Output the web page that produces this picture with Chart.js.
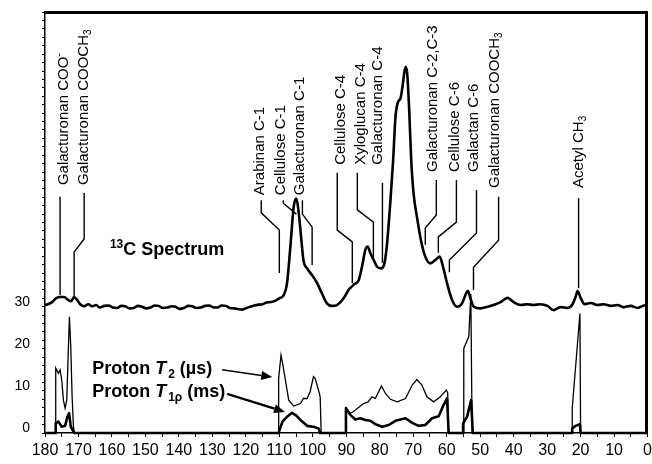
<!DOCTYPE html>
<html><head><meta charset="utf-8">
<script src="https://cdn.jsdelivr.net/npm/chart.js@4/dist/chart.umd.min.js"></script>
<style>
html,body{margin:0;padding:0;background:#fff}
#wrap{width:652px;height:464px;position:relative}
canvas{display:block}
.fr{position:absolute;background:#000;pointer-events:none}
#frTop{left:45px;top:11px;width:603px;height:2px}
#frRight{left:645px;top:11px;width:2px;height:422px}
</style>
</head><body><div id="wrap"><canvas id="c" width="652" height="464"></canvas><div class="fr" id="frTop"></div><div class="fr" id="frRight"></div></div>
<script>
// ---- tick labels ----
const xTickLabels = [180,170,160,150,140,130,120,110,100,90,80,70,60,50,40,30,20,10,0];
const yTickLabels = [0,10,20,30];

// ---- 13C spectrum (ppm, intensity offset on the same axis) ----
const specPpm = [180.0,179.1,177.9,176.7,175.5,174.3,173.1,172.2,171.3,170.4,169.5,168.3,167.1,165.9,164.7,163.6,162.3,161.0,159.8,158.5,157.2,156.0,154.8,153.5,152.2,151.0,149.8,148.5,147.2,146.0,144.8,143.5,142.2,141.0,139.8,138.5,137.2,136.0,134.8,133.5,132.2,131.0,129.8,128.5,127.2,126.0,124.8,123.5,122.2,121.0,119.8,118.7,117.5,116.2,115.0,113.8,112.5,111.3,110.4,109.7,108.8,107.7,106.7,105.7,104.9,104.3,103.5,102.8,101.7,100.2,98.7,97.3,95.8,94.3,92.8,90.8,89.3,87.8,86.3,85.3,84.3,83.6,82.8,81.8,80.8,79.6,78.6,77.8,76.8,76.0,75.3,74.5,73.8,73.2,72.3,71.8,71.2,70.6,69.9,68.9,67.7,66.4,64.9,63.4,62.1,61.1,59.9,58.4,56.9,55.4,54.4,53.7,52.9,51.9,49.9,47.8,45.4,43.9,41.8,40.0,37.9,35.9,34.1,32.0,29.9,28.1,26.0,23.9,22.4,21.5,20.9,20.0,18.8,17.0,14.9,13.1,11.0,8.9,7.2,5.1,3.0,1.5,0];
const specVal = [30.4,30.6,31.1,32.0,32.3,32.3,31.6,31.3,32.3,31.6,30.6,30.1,30.6,30.1,30.4,29.8,30.2,30.3,29.8,29.7,30.2,30.1,29.6,29.7,30.2,30.0,29.6,29.8,30.3,30.2,29.7,29.8,30.1,30.0,29.5,29.7,30.2,30.1,29.7,29.8,30.2,30.3,29.9,29.8,30.3,30.2,29.7,29.6,29.4,29.3,29.7,30.0,30.3,30.5,30.6,31.0,31.1,31.4,31.8,32.1,32.6,35.6,44.3,53.8,55.7,53.0,46.6,41.1,39.1,37.5,35.6,33.2,30.8,30.2,30.4,32.0,34.0,35.2,36.3,39.5,43.5,44.3,42.7,41.1,39.5,39.1,40.3,45.1,55.3,64.8,75.1,78.7,79.5,82.3,87.0,85.4,76.7,64.8,56.9,51.4,45.8,41.9,40.3,41.1,41.9,39.5,35.6,31.6,30.0,30.8,32.8,33.8,32.0,30.0,29.6,30.0,30.6,31.1,32.1,31.1,30.4,30.6,30.4,30.6,30.2,29.2,29.9,29.7,30.6,32.3,33.7,32.1,30.6,30.9,30.4,30.6,30.2,30.4,29.9,30.2,29.7,30.2,30.4];

// ---- Proton T2 (µs) ----
const t2Ppm = [180,176.8,176.8,176.0,175.5,175.0,174.5,174.0,173.5,173.0,172.7,172.3,171.9,171.5,171.2,110.2,110.2,109.5,108.9,108.2,107.2,105.7,103.7,102.8,101.7,100.8,99.8,99.3,98.3,97.8,97.5,90.1,90.1,88.8,87.8,85.8,84.8,83.5,82.3,81.3,79.5,78.3,76.8,74.8,72.3,70.3,68.9,67.4,65.9,63.9,61.9,60.1,59.7,59.5,54.9,54.9,53.4,52.8,52.4,22.5,22.5,20.2,20.0,0];
const t2Val = [0,0,15.4,14.2,15.0,12.6,7.8,5.9,7.8,20.5,27.6,20.5,8.6,1.5,0,0,13.0,18.5,16.0,12.6,7.8,6.4,7.0,8.2,8.2,9.8,13.4,13.0,10.2,8.6,0,0,5.9,4.7,5.1,6.4,7.0,7.4,8.6,8.2,11.2,9.4,8.0,7.4,8.2,11.4,12.7,11.4,8.6,7.4,8.6,10.2,9.5,0,0,20.1,22.9,33.0,0,0,5.9,28.4,0,0];

// ---- Proton T1rho (ms) ----
const t1Ppm = [180,176.8,176.8,176.0,175.0,174.0,173.3,172.8,172.3,171.5,171.2,110.2,109.6,109.0,107.5,106.2,105.0,103.7,101.7,99.8,98.3,97.8,90.1,90.1,88.8,87.3,85.8,84.3,82.8,81.3,79.3,77.3,75.3,72.3,70.3,68.4,66.4,64.4,62.4,60.9,59.9,59.4,55.1,55.1,53.9,52.7,52.2,22.5,22.5,21.5,20.2,20.0,0];
const t1Val = [0,0,2.3,2.7,1.5,1.7,3.9,4.7,1.5,0.3,0,0,1.5,2.8,4.0,4.8,4.2,3.1,1.7,1.5,1.1,0,0,5.9,4.3,3.2,3.5,3.1,2.9,2.1,1.5,1.9,2.9,3.5,2.4,1.7,1.9,3.5,4.0,6.7,8.2,0,0,2.3,3.9,7.8,0,0,1.1,1.7,2.1,0,0];

// ---- peak assignments ----
const peakLabels = ['Galacturonan COO⁻','Galacturonan COOCH₃','Arabinan C-1','Cellulose C-1','Galacturonan C-1','Cellulose C-4','Xyloglucan C-4','Galacturonan C-4','Galacturonan C-2,C-3','Cellulose C-6','Galactan C-6','Galacturonan COOCH₃','Acetyl CH₃'];
const peakLabelPpm = [174.3,168.3,115.7,109.4,103.7,91.5,85.5,80.4,64.0,57.4,51.7,45.7,20.6];
const peakLabelBase = [58.9,58.9,56.5,56.5,56.5,63.7,63.7,63.7,62.0,62.0,62.0,58.2,58.2];
const leaderPpm = [[175.5,175.5],[168.3,168.3,171.3,171.3],[115.4,115.4,110.0,110.0],[108.8,108.8,104.9],[103.1,103.1,100.2,100.2],[92.7,92.7,88.2,88.2],[86.7,86.7,81.9,81.9],[79.2,79.2],[63.1,63.1,66.4,66.4],[57.1,57.1,62.5,62.5],[51.1,51.1,59.2,59.2],[44.5,44.5,52.0,52.0],[20.6,20.6]];
const leaderVal = [[56.1,32.8],[57.0,46.1,43.0,32.3],[55.3,52.3,48.2,38.0],[55.3,54.6,52.0],[55.3,52.0,48.9,39.9],[61.8,48.2,45.4,35.6],[61.8,53.0,50.1,41.8],[59.4,40.4],[60.1,51.8,48.7,44.7],[60.1,50.1,46.6,42.8],[57.7,47.5,41.1,38.2],[56.1,45.8,39.4,34.0],[55.8,34.4]];

// ---- series titles ----
const seriesTitles = ['¹³C Spectrum','Proton T₂ (µs)','Proton T₁ρ (ms)'];
const titlePpm = [160.6,165.9,165.9];
const titleVal = [42.3,14.0,8.55];
const arrowFromPpm = [127.1,125.6], arrowFromVal = [15.0,9.3];
const arrowToPpm = [112.1,108.3], arrowToVal = [13.3,5.0];

const FONT = '"Liberation Sans", Arial, Helvetica, sans-serif';
const subMap = {'₃':'3','₂':'2','₁':'1'};
const supMap = {'⁻':'-','¹':'1','³':'3'};

function drawRich(ctx, text, x, y, size, weight, italicT){
  const segs=[]; let subRun=false;
  for(const ch of text){
    let s;
    if(ch in subMap || (subRun && ch==='ρ')) s={t:subMap[ch]||ch,mode:'sub'};
    else if(ch in supMap) s={t:supMap[ch],mode:'sup'};
    else if(italicT && ch==='T') s={t:ch,mode:'it'};
    else s={t:ch,mode:'n'};
    subRun = s.mode==='sub';
    const last=segs[segs.length-1];
    if(last && last.mode===s.mode) last.t+=s.t; else segs.push(s);
  }
  ctx.textAlign='left'; ctx.textBaseline='alphabetic';
  let cx=x;
  segs.forEach(s=>{
    let fs=size, dy=0, st='';
    if(s.mode==='sub'){fs=Math.round(size*0.66); dy=size*0.2;}
    if(s.mode==='sup'){fs=Math.round(size*0.66); dy=-size*0.4;}
    if(s.mode==='it'){st='italic ';}
    ctx.font=`${st}${weight} ${fs}px ${FONT}`;
    ctx.fillText(s.t,cx,y+dy);
    cx+=ctx.measureText(s.t).width + (s.mode==='it'?2:0);
  });
}

const annot = {
  id:'annot',
  afterDraw(chart){
    const ctx=chart.ctx, xs=chart.scales.x, ys=chart.scales.y;
    ctx.save();
    ctx.strokeStyle='#000'; ctx.fillStyle='#000';
    const fl=Math.round(xs.getPixelForValue(180)), fr=Math.round(xs.getPixelForValue(0));
    const ft=Math.round(ys.getPixelForValue(100)), fb=Math.round(ys.getPixelForValue(0));
    ctx.fillRect(fl, ft, fr-fl, 2);
    ctx.fillRect(fr-2, ft, 2, fb-ft);
    ctx.lineWidth=1.4; ctx.lineJoin='miter';
    leaderPpm.forEach((arr,i)=>{
      ctx.beginPath();
      arr.forEach((p,j)=>{const px=xs.getPixelForValue(p), py=ys.getPixelForValue(leaderVal[i][j]); j?ctx.lineTo(px,py):ctx.moveTo(px,py);});
      ctx.stroke();
    });
    peakLabels.forEach((t,i)=>{
      ctx.save();
      ctx.translate(xs.getPixelForValue(peakLabelPpm[i]), ys.getPixelForValue(peakLabelBase[i]));
      ctx.rotate(-Math.PI/2);
      drawRich(ctx,t,0,4,15,'normal',false);
      ctx.restore();
    });
    seriesTitles.forEach((t,i)=>{
      drawRich(ctx,t,xs.getPixelForValue(titlePpm[i]),ys.getPixelForValue(titleVal[i]),18,'bold',i>0);
    });
    const aw=[1.5,2.2];
    arrowFromPpm.forEach((p,i)=>{
      const x1=xs.getPixelForValue(p), y1=ys.getPixelForValue(arrowFromVal[i]);
      const x2=xs.getPixelForValue(arrowToPpm[i]), y2=ys.getPixelForValue(arrowToVal[i]);
      const ang=Math.atan2(y2-y1,x2-x1), L=11, W=4.5;
      const bx=x2-L*Math.cos(ang), by=y2-L*Math.sin(ang);
      ctx.lineWidth=aw[i];
      ctx.beginPath(); ctx.moveTo(x1,y1); ctx.lineTo(bx,by); ctx.stroke();
      ctx.beginPath(); ctx.moveTo(x2,y2);
      ctx.lineTo(bx+W*Math.sin(ang),by-W*Math.cos(ang));
      ctx.lineTo(bx-W*Math.sin(ang),by+W*Math.cos(ang));
      ctx.closePath(); ctx.fill();
    });
    ctx.restore();
  }
};

const pts=(p,v)=>p.map((x,i)=>({x:x,y:v[i]}));

new Chart(document.getElementById('c'),{
  type:'line',
  data:{datasets:[
    {label:'Proton T2 (µs)',data:pts(t2Ppm,t2Val),borderColor:'#000',borderWidth:1.3,pointRadius:0,tension:0,fill:false,clip:false},
    {label:'Proton T1ρ (ms)',data:pts(t1Ppm,t1Val),borderColor:'#000',borderWidth:2.6,pointRadius:0,tension:0,fill:false,clip:false,borderJoinStyle:'round'},
    {label:'13C Spectrum',data:pts(specPpm,specVal),borderColor:'#000',borderWidth:2.6,pointRadius:0,cubicInterpolationMode:'monotone',fill:false,clip:false,borderJoinStyle:'round'}
  ]},
  options:{
    responsive:false, animation:false, devicePixelRatio:1,
    layout:{padding:{left:0,right:0,top:12,bottom:0}},
    plugins:{legend:{display:false},tooltip:{enabled:false}},
    scales:{
      x:{type:'linear',reverse:true,min:0,max:180,
        ticks:{stepSize:5,autoSkip:false,maxRotation:0,color:'#000',padding:0,
          font:{family:FONT,size:16,lineHeight:1.7},
          callback:v=>xTickLabels.includes(v)?String(v):''},
        grid:{drawOnChartArea:false,drawTicks:true,tickLength:4,color:'#000',lineWidth:1},
        border:{display:true,color:'#000',width:1.5},
        afterFit:s=>{s.height=31;}
      },
      y:{type:'linear',min:0,max:100,
        ticks:{stepSize:2,autoSkip:false,color:'#000',padding:12,labelOffset:-5,
          font:{family:FONT,size:14,lineHeight:0.01},
          callback:v=>yTickLabels.includes(v)?String(v):''},
        grid:{drawOnChartArea:false,drawTicks:true,tickLength:3,color:'#000',lineWidth:1},
        border:{display:true,color:'#000',width:1.5},
        afterFit:s=>{s.width=45;}
      }
    }
  },
  plugins:[annot]
});
</script></body></html>
